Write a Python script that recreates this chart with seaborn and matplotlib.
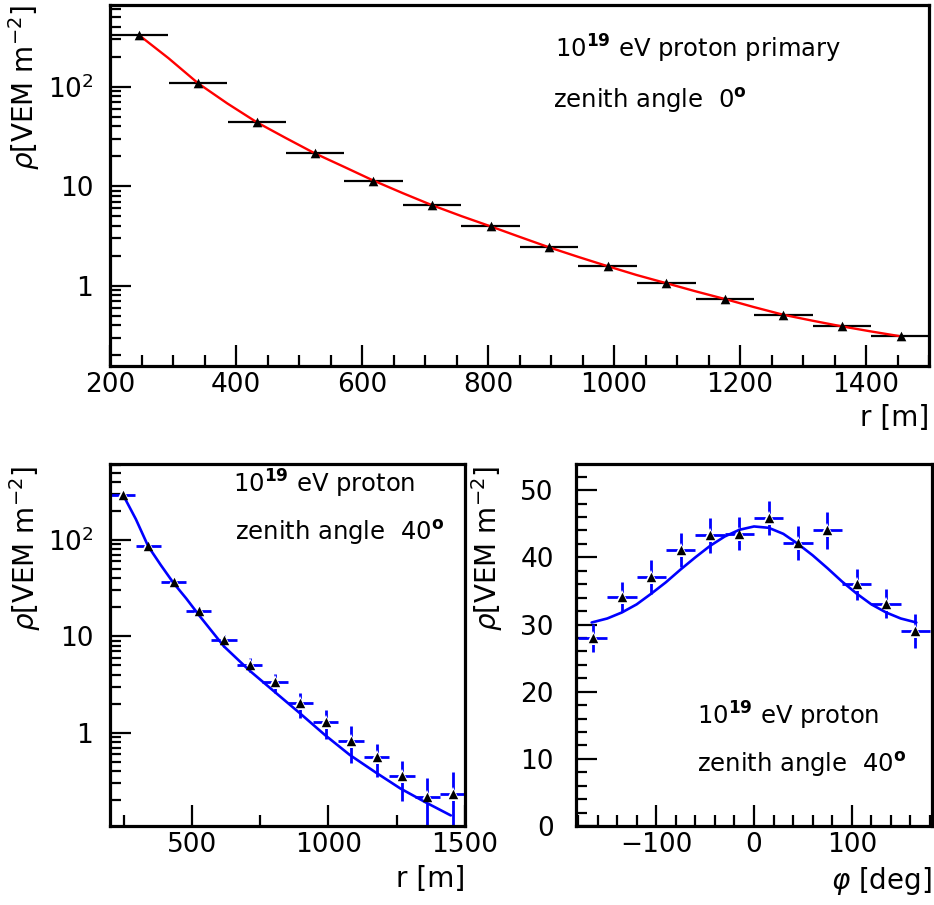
import numpy as np
import pandas as pd
import matplotlib
matplotlib.use("Agg")
import matplotlib.pyplot as plt
import seaborn as sns
from matplotlib.ticker import MultipleLocator, LogLocator, NullFormatter

# ---------------- data ----------------
r_centres = [246, 340, 433, 525, 618, 711, 804, 897, 990, 1083, 1176, 1269, 1362, 1455]
r_halfbin = 46.4

rho_top = [330, 108, 43.9, 21.4, 11.4, 6.45, 3.95, 2.43, 1.57, 1.06, 0.735, 0.51, 0.39, 0.31]
fit_top_r = [246, 293, 340, 386, 433, 479, 525, 572, 618, 665, 711, 758, 804, 850, 897,
             943, 990, 1036, 1083, 1129, 1176, 1222, 1269, 1315, 1362, 1408, 1455]
fit_top_rho = [330, 193, 108, 68, 43.9, 30.5, 21.4, 15.6, 11.4, 8.5, 6.45, 5.0, 3.95, 3.1, 2.43,
               1.95, 1.57, 1.28, 1.06, 0.88, 0.735, 0.61, 0.51, 0.445, 0.39, 0.347, 0.31]

rho_40 = [293, 86.7, 36.9, 18.2, 9.1, 5.1, 3.35, 2.02, 1.30, 0.83, 0.56, 0.355, 0.216, 0.234]
err_40 = [8, 4, 2.5, 2.2, 1.3, 0.85, 0.75, 0.6, 0.44, 0.34, 0.21, 0.16, 0.12, 0.16]
fit_40_r = [249, 295, 340, 386, 432, 479, 526, 572, 617, 710, 803, 895, 987, 1078, 1172, 1263, 1356, 1448]
fit_40_rho = [290, 164, 86, 55, 36, 24.8, 16.6, 11.4, 7.9, 4.45, 2.66, 1.6, 0.95, 0.59, 0.39,
              0.265, 0.19, 0.139]

phi_centres = [-165, -135, -105, -75, -45, -15, 15, 45, 75, 105, 135, 165]
phi_halfbin = 15
rho_phi = [28.0, 34.1, 37.1, 41.1, 43.3, 43.5, 45.9, 42.1, 44.0, 36.0, 33.1, 29.0]
err_phi = [2.1, 2.2, 2.5, 2.5, 2.6, 2.45, 2.55, 2.5, 2.7, 2.3, 2.2, 2.5]
fit_phi = [-166, -150, -135, -120, -105, -90, -75, -60, -45, -30, -15, 0, 15, 30, 45, 60,
           75, 90, 105, 120, 135, 150, 166]
fit_phi_rho = [30.3, 30.9, 31.8, 33.0, 34.6, 36.3, 38.2, 40.0, 41.7, 43.1, 44.1, 44.6, 44.4,
               43.5, 42.0, 40.3, 38.4, 36.4, 34.6, 33.0, 31.8, 30.9, 30.3]

ylabel_txt = r"$\rho$[VEM m$^{-2}$]"
ann_top = [r"10$^{\bf 19}$ eV proton primary", r"zenith angle  0$^{\bf o}$"]
ann_40 = [r"10$^{\bf 19}$ eV proton", r"zenith angle  40$^{\bf o}$"]

# ---------------- style ----------------
sns.set_theme(style="ticks")
plt.rcParams['font.family'] = ['DejaVu Sans']
plt.rcParams['mathtext.fontset'] = 'dejavusans'
plt.rcParams['text.color'] = 'black'
plt.rcParams['axes.labelcolor'] = 'black'
plt.rcParams['xtick.color'] = 'black'
plt.rcParams['ytick.color'] = 'black'

W, H = 934, 905
fig = plt.figure(figsize=(W / 100, H / 100), dpi=100)
fig.patch.set_facecolor('white')


def px_axes(l, t, r, b):
    return fig.add_axes([l / W, 1 - b / H, (r - l) / W, (b - t) / H])


def style(ax, ypad):
    ax.set_facecolor('white')
    ax.grid(False)
    for s in ax.spines.values():
        s.set_visible(True)
        s.set_linewidth(2.3)
        s.set_color('black')
    ax.tick_params(which='both', direction='in', top=False, right=False,
                   colors='black', labelcolor='black', labelsize=19, width=1.6)
    ax.tick_params(which='major', length=15)
    ax.tick_params(which='minor', length=8)
    ax.tick_params(axis='x', which='major', pad=4)
    ax.tick_params(axis='y', which='major', pad=ypad)


def log_y(ax):
    ax.set_yscale('log')
    ax.set_yticks([1, 10, 100], labels=['1', '10', r'10$^2$'])
    ax.yaxis.set_minor_locator(LogLocator(base=10, subs=np.arange(2, 10)))
    ax.yaxis.set_minor_formatter(NullFormatter())


def text_px(x, y, s, size=17.5):
    fig.text(x / W, 1 - y / H, s, fontsize=size, color='black', ha='left', va='baseline')


# ---------------- top panel ----------------
ax1 = px_axes(110, 5, 929, 366)
style(ax1, 12)
log_y(ax1)
ax1.set_xlim(200, 1500)
ax1.set_ylim(0.156, 662)
ax1.xaxis.set_major_locator(MultipleLocator(200))
ax1.xaxis.set_minor_locator(MultipleLocator(50))

ax1.errorbar(r_centres, rho_top, xerr=r_halfbin, fmt='none', ecolor='black',
             elinewidth=1.6, capsize=0, zorder=2)
df_fit_top = pd.DataFrame({'r': fit_top_r, 'rho': fit_top_rho})
sns.lineplot(data=df_fit_top, x='r', y='rho', ax=ax1, color='#ff0000', lw=1.7,
             sort=False, estimator=None, zorder=3)
df_top = pd.DataFrame({'r': r_centres, 'rho': rho_top})
sns.scatterplot(data=df_top, x='r', y='rho', ax=ax1, marker='^', s=48, color='black',
                linewidth=0, zorder=5)
ax1.set_xlabel('r [m]', fontsize=20, loc='right', color='black')
ax1.xaxis.set_label_coords(1.0, -0.105)
ax1.set_ylabel(ylabel_txt, fontsize=20, loc='top', color='black')
ax1.yaxis.set_label_coords(-0.083, 1.0)
text_px(555, 58, ann_top[0])
text_px(553, 108, ann_top[1])

# ---------------- bottom left ----------------
ax2 = px_axes(110, 464, 465, 826)
style(ax2, 12)
log_y(ax2)
ax2.set_xlim(200, 1500)
ax2.set_ylim(0.108, 615)
ax2.xaxis.set_major_locator(MultipleLocator(500))
ax2.xaxis.set_minor_locator(MultipleLocator(250))

ax2.errorbar(r_centres, rho_40, xerr=r_halfbin, yerr=err_40, fmt='none', ecolor='#0000ff',
             elinewidth=2.0, capsize=0, zorder=2)
ax2.plot(r_centres, rho_40, ls='none', marker='^', ms=9.5, color='white', mew=0, zorder=3)
df_fit_40 = pd.DataFrame({'r': fit_40_r, 'rho': fit_40_rho})
sns.lineplot(data=df_fit_40, x='r', y='rho', ax=ax2, color='#0000ff', lw=1.9,
             sort=False, estimator=None, zorder=4)
df_40 = pd.DataFrame({'r': r_centres, 'rho': rho_40})
sns.scatterplot(data=df_40, x='r', y='rho', ax=ax2, marker='^', s=46, color='black',
                linewidth=0, zorder=5)
ax2.set_xlabel('r [m]', fontsize=20, loc='right', color='black')
ax2.xaxis.set_label_coords(1.0, -0.108)
ax2.set_ylabel(ylabel_txt, fontsize=20, loc='top', color='black')
ax2.yaxis.set_label_coords(-0.19, 0.995)
text_px(233, 493, ann_40[0])
text_px(235, 540, ann_40[1])

# ---------------- bottom right ----------------
ax3 = px_axes(576, 464, 932, 826)
style(ax3, 16)
ax3.set_xlim(-182, 182)
ax3.set_ylim(0, 53.9)
ax3.xaxis.set_major_locator(MultipleLocator(100))
ax3.xaxis.set_minor_locator(MultipleLocator(20))
ax3.yaxis.set_major_locator(MultipleLocator(10))
ax3.yaxis.set_minor_locator(MultipleLocator(2))

ax3.errorbar(phi_centres, rho_phi, xerr=phi_halfbin, yerr=err_phi, fmt='none',
             ecolor='#0000ff', elinewidth=2.0, capsize=0, zorder=2)
ax3.plot(phi_centres, rho_phi, ls='none', marker='^', ms=9.5, color='white', mew=0, zorder=3)
df_fit_phi = pd.DataFrame({'phi': fit_phi, 'rho': fit_phi_rho})
sns.lineplot(data=df_fit_phi, x='phi', y='rho', ax=ax3, color='#0000ff', lw=1.9,
             sort=False, estimator=None, zorder=4)
df_phi = pd.DataFrame({'phi': phi_centres, 'rho': rho_phi})
sns.scatterplot(data=df_phi, x='phi', y='rho', ax=ax3, marker='^', s=46, color='black',
                linewidth=0, zorder=5)
ax3.set_xlabel(r'$\varphi$ [deg]', fontsize=20, loc='right', color='black')
ax3.xaxis.set_label_coords(1.0, -0.108)
ax3.set_ylabel(ylabel_txt, fontsize=20, loc='top', color='black')
ax3.yaxis.set_label_coords(-0.2, 0.995)
text_px(697, 725, ann_40[0])
text_px(697, 772, ann_40[1])

fig.savefig('out.png', dpi=100, facecolor='white')
